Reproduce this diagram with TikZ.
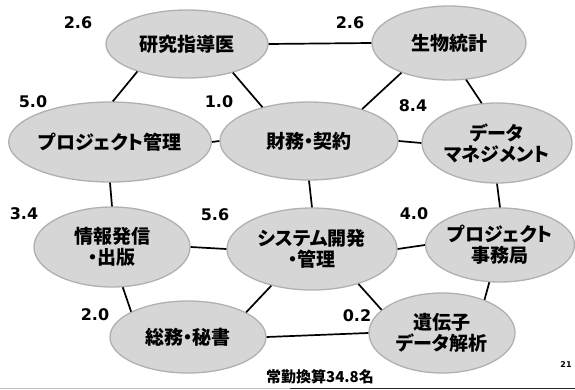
\documentclass[tikz,border=0pt]{standalone}
\usepackage{fontspec}
\usetikzlibrary{shapes.geometric}
\newfontfamily\jpfont[RawFeature=+palt]{Noto Sans CJK JP}
\newfontfamily\numfont{DejaVu Sans}
\begin{document}
\begin{tikzpicture}[x=1pt,y=-1pt,
  unit/.style={ellipse, fill=gray!32, draw=gray!62, line width=1.3pt, inner sep=0pt,
    font=\jpfont\bfseries\fontsize{19}{21}\selectfont, align=center},
  link/.style={line width=1.7pt, black},
  val/.style={font=\numfont\bfseries\fontsize{16}{16}\selectfont, inner sep=0pt}]
\useasboundingbox (0,0) rectangle (575,390);
% units
\node[unit, minimum width=162pt, minimum height=68pt] (A) at (187,44) {研究指導医};
\node[unit, minimum width=154pt, minimum height=74pt] (B) at (449,43) {生物統計};
\node[unit, minimum width=170pt, minimum height=80pt] (C) at (110,142) {プロジェクト管理};
\node[unit, minimum width=178pt, minimum height=78pt] (D) at (309,141) {財務・契約};
\node[unit, minimum width=150pt, minimum height=80pt] (E) at (497,143) {データ\\マネジメント};
\node[unit, minimum width=156pt, minimum height=80pt] (F) at (112,247) {情報発信\\・出版};
\node[unit, minimum width=170pt, minimum height=82pt] (G) at (312,249) {システム開発\\・管理};
\node[unit, minimum width=144pt, minimum height=74pt] (H) at (500,245) {プロジェクト\\事務局};
\node[unit, minimum width=156pt, minimum height=72pt] (I) at (188,337) {総務・秘書};
\node[unit, minimum width=146pt, minimum height=80pt] (J) at (442,333) {遺伝子\\データ解析};
% links
\draw[link] (A.east) -- (B.west);
\draw[link] (A.209) -- (C.86);
\draw[link] (A.328) -- (D.144);
\draw[link] (B.212) -- (D.31);
\draw[link] (B.295) -- (E.111);
\draw[link] (C.east) -- (D.west);
\draw[link] (D.east) -- (E.west);
\draw[link] (C.south) -- (F.north);
\draw[link] (D.south) -- (G.north);
\draw[link] (E.south) -- (H.north);
\draw[link] (F.east) -- (G.west);
\draw[link] (G.east) -- (H.west);
\draw[link] (F.285) -- (I.156);
\draw[link] (G.222) -- (I.23);
\draw[link] (G.323) -- (J.159);
\draw[link] (H.254) -- (J.38);
\draw[link] (I.east) -- (J.west);
% values
\node[val] (vA) at (78,23) {2.6};
\node[val] (vB) at (350,23) {2.6};
\node[val] (vC) at (33,102) {5.0};
\node[val] (vD) at (219,102) {1.0};
\node[val] (vE) at (413,106) {8.4};
\node[val] (vF) at (24,214) {3.4};
\node[val] (vG) at (215,215) {5.6};
\node[val] (vH) at (414,214) {4.0};
\node[val] (vI) at (95,315) {2.0};
\node[val] (vJ) at (357,316) {0.2};
% footer
\node[font=\jpfont\bfseries\fontsize{15}{15}\selectfont, inner sep=0pt] (total) at (320,377) {常勤換算34.8名};
\node[font=\numfont\bfseries\fontsize{8}{8}\selectfont, inner sep=0pt] (page) at (566,365) {21};
\draw[gray!50, line width=1.5pt] (0,388.5) -- (290,388.5);
\draw[black!85, line width=1.5pt] (290,388.5) -- (575,388.5);
\end{tikzpicture}
\end{document}
